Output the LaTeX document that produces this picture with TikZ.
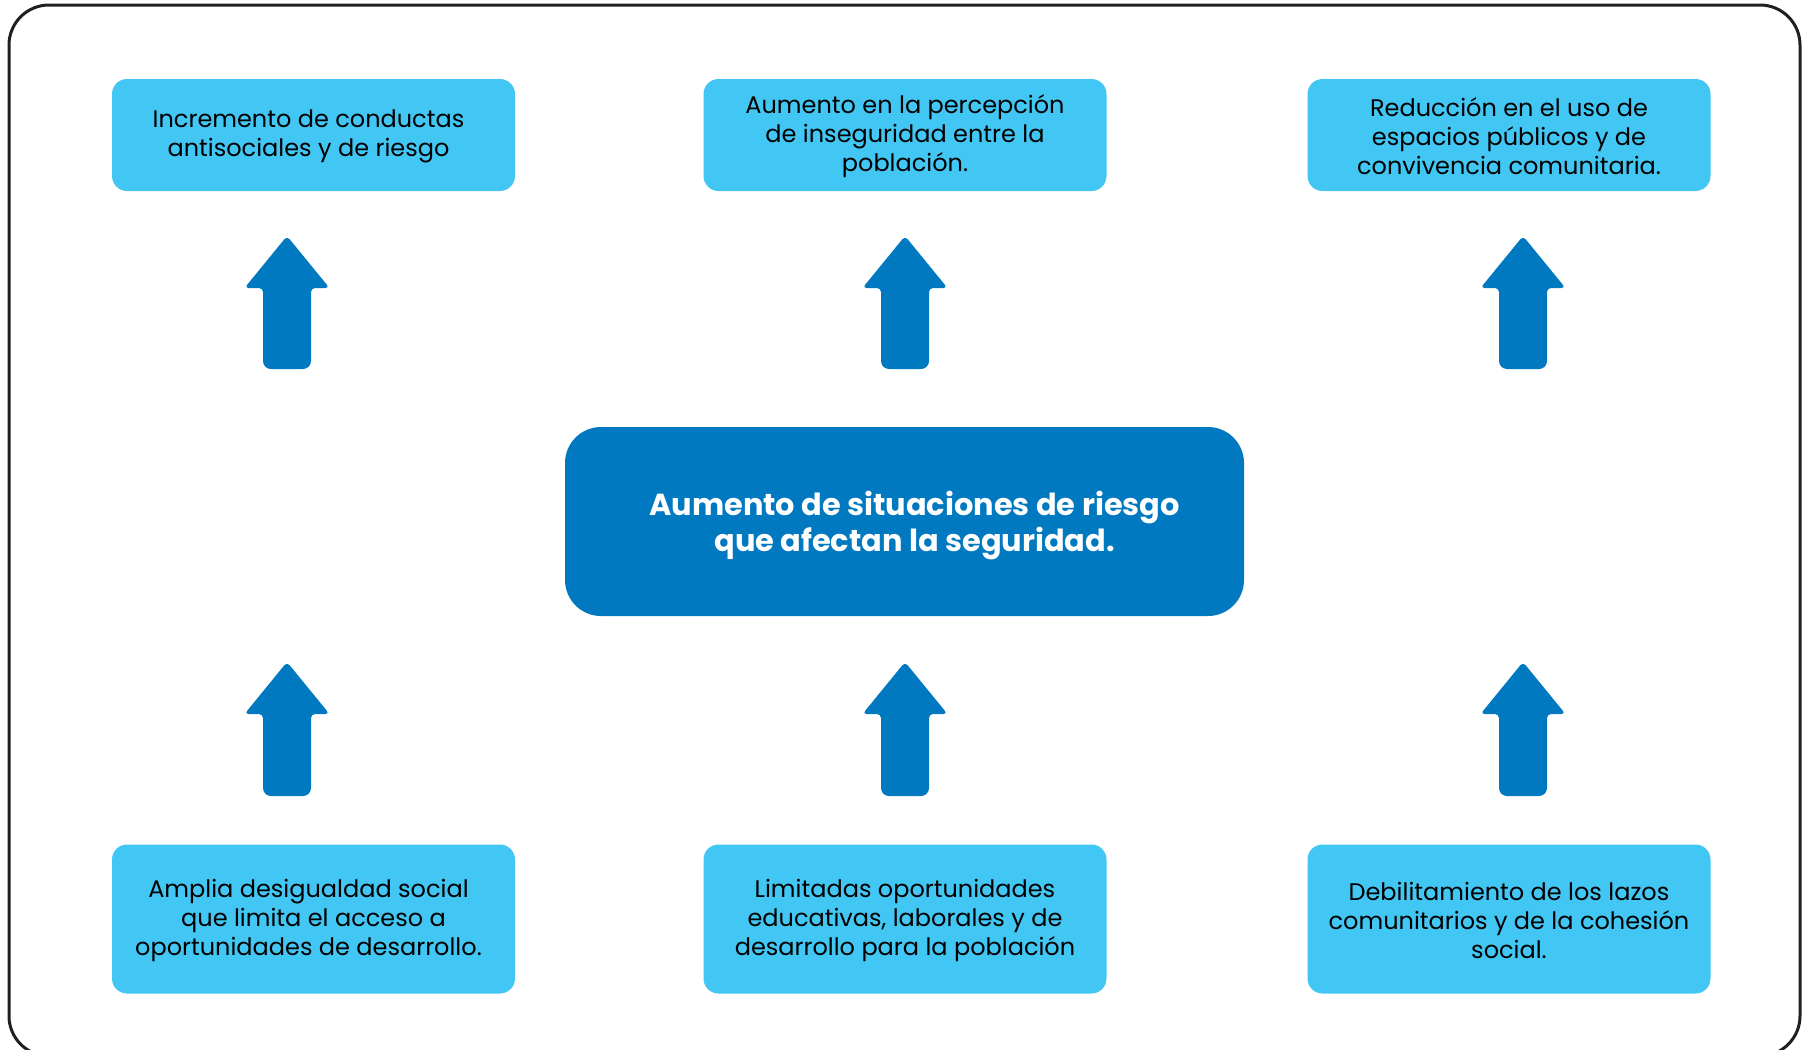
\documentclass[tikz,border=0pt]{standalone}
\usepackage{fontspec}
\setmainfont{Poppins}
\usetikzlibrary{positioning}

\definecolor{cajaclara}{HTML}{42C7F4}
\definecolor{azulfuerte}{HTML}{0079C1}
\definecolor{marco}{HTML}{231F20}

\tikzset{
  efecto/.style={fill=cajaclara, rounded corners=7.5pt, minimum width=201.5pt,
    minimum height=56pt, align=center, inner sep=0pt,
    font=\fontsize{12}{14.5}\selectfont},
  causa/.style={efecto, minimum height=74.5pt},
  central/.style={fill=azulfuerte, rounded corners=18pt, minimum width=339.5pt,
    minimum height=94.5pt, align=center, text=white,
    font=\fontsize{15.2}{18}\selectfont\bfseries},
  flecha/.style={fill=azulfuerte, rounded corners=2pt}
}

\newcommand{\flechaarriba}[3]{% x, punta, base
  \fill[flecha] (#1,#2) -- (#1+42.5,#2+52) -- (#1+24,#2+52)
    {[rounded corners=4pt] -- (#1+24,#3) -- (#1-24,#3)} -- (#1-24,#2+52)
    -- (#1-42.5,#2+52) -- cycle;
}

\begin{document}
\begin{tikzpicture}[x=0.5pt, y=-0.5pt]

\useasboundingbox (0,0) rectangle (1811,1050);
\clip (0,0) rectangle (1811,1050);

% marco exterior
\draw[marco, line width=1.5pt, rounded corners=20pt] (9,5) rectangle (1800,1056);

% efectos
\node[efecto] (efectoA) at (313.5,135) {\strut Incremento de conductas\hspace*{5pt}\\antisociales y de riesgo\hspace*{5pt}};
\node[efecto] (efectoB) at (905,135) {\strut Aumento en la percepción\\de inseguridad entre la\\población.};
\node[efecto] (efectoC) at (1509,135) {\strut Reducción en el uso de\\espacios públicos y de\\convivencia comunitaria.};

% problema central
\node[central] (problema) at (904.5,521.5) {\rule{0pt}{15.7pt}\hspace*{10pt}Aumento de situaciones de riesgo\\\hspace*{10pt}que afectan la seguridad.};

% causas
\node[causa] (causaA) at (313.5,919) {\strut Amplia desigualdad social\hspace*{5pt}\\que limita el acceso a\hspace*{5pt}\\oportunidades de desarrollo.\hspace*{5pt}};
\node[causa] (causaB) at (905,919) {\strut Limitadas oportunidades\\educativas, laborales y de\\desarrollo para la población};
\node[causa] (causaC) at (1509,919) {\strut Debilitamiento de los lazos\\comunitarios y de la cohesión\\social.};

% flechas
\foreach \x in {287,905,1523}{
  \flechaarriba{\x}{236}{369}
  \flechaarriba{\x}{662}{796}
}

\end{tikzpicture}
\end{document}
